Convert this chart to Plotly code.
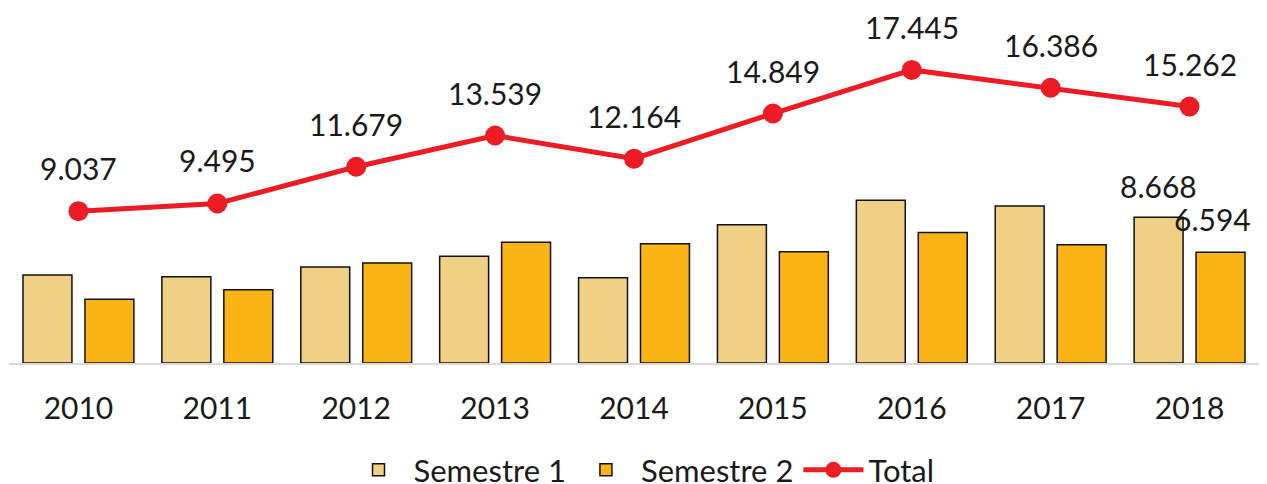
import plotly.graph_objects as go

years = ["2010", "2011", "2012", "2013", "2014", "2015", "2016", "2017", "2018"]
sem1 = [5.237, 5.130, 5.720, 6.350, 5.070, 8.230, 9.680, 9.350, 8.668]
sem2 = [3.800, 4.365, 5.959, 7.189, 7.094, 6.619, 7.765, 7.036, 6.594]
total = [9.037, 9.495, 11.679, 13.539, 12.164, 14.849, 17.445, 16.386, 15.262]
total_labels = ["9.037", "9.495", "11.679", "13.539", "12.164", "14.849", "17.445", "16.386", "15.262"]

FONT = "Lato"
TXT = "#1a1a1a"
fig = go.Figure()
fig.add_trace(go.Bar(x=years, y=sem1, name="Semestre 1",
                     marker=dict(color="#F0D085", line=dict(color="#111111", width=1.5))))
fig.add_trace(go.Bar(x=years, y=sem2, name="Semestre 2",
                     marker=dict(color="#FBB416", line=dict(color="#111111", width=1.5))))
fig.add_trace(go.Scatter(x=years, y=total, name="Total", mode="lines+markers",
                         line=dict(color="#ED1C24", width=5),
                         marker=dict(color="#ED1C24", size=20)))

anns = []
for i, (y, t) in enumerate(zip(total, total_labels)):
    anns.append(dict(x=i, y=y, text=t, showarrow=False, yshift=43,
                     font=dict(size=30, color=TXT, family=FONT)))
last = len(years) - 1
anns.append(dict(x=last, y=sem1[-1], text="8.668", showarrow=False, xshift=-31, yshift=31,
                 font=dict(size=30, color=TXT, family=FONT)))
anns.append(dict(x=last, y=sem2[-1], text="6.594", showarrow=False, xshift=23, yshift=33,
                 font=dict(size=30, color=TXT, family=FONT)))

fig.update_layout(
    width=1267, height=484,
    margin=dict(l=1, r=16, t=0, b=129),
    paper_bgcolor="white", plot_bgcolor="white",
    barmode="group", bargap=0.108, bargroupgap=0.21,
    font=dict(family=FONT, color=TXT),
    annotations=anns,
    showlegend=True,
    legend=dict(orientation="h", x=0.5, xanchor="center", xref="container",
                y=0.045, yanchor="middle", yref="container",
                font=dict(size=31, family=FONT, color=TXT), itemwidth=60,
                traceorder="normal"),
    xaxis=dict(type="category", range=[-0.5, len(years) - 0.5], showline=True,
               linecolor="#d9d9d9", linewidth=2, ticks="", ticklabelstandoff=18,
               automargin=False,
               tickfont=dict(size=30, family=FONT, color=TXT), showgrid=False),
    yaxis=dict(range=[0, 21.13], visible=False, showgrid=False, zeroline=False,
               automargin=False),
)
fig.write_html("out.html")
